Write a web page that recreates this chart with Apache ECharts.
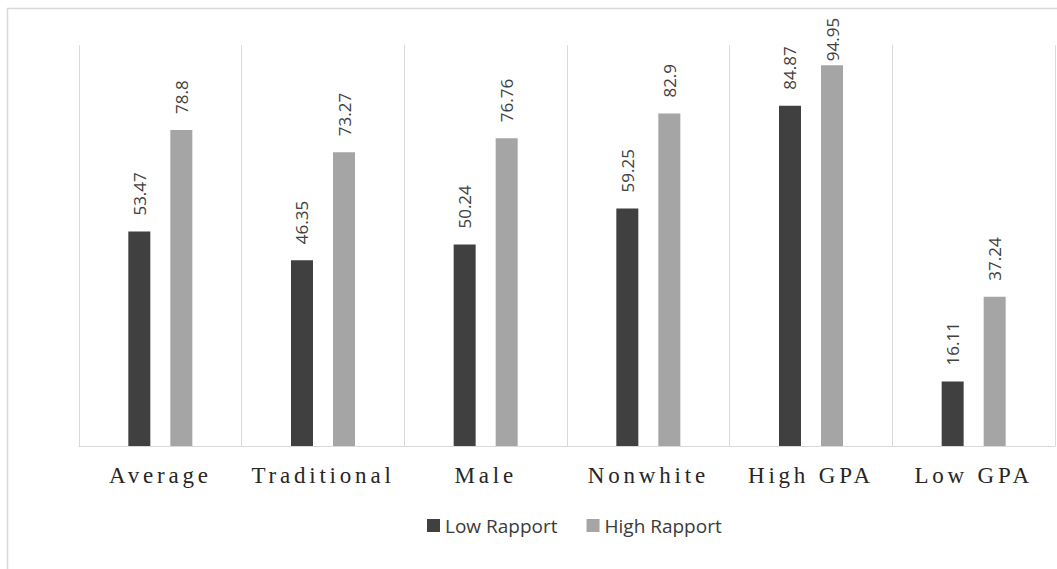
<!DOCTYPE html>
<html><head><meta charset="utf-8">
<script src="https://cdn.jsdelivr.net/npm/echarts@6/dist/echarts.min.js"></script>
<style>
html,body{margin:0;padding:0;background:#fff}
#chart{width:1057px;height:569px}
#chart text[style*="Liberation Serif"]{letter-spacing:3.8px}
</style>
</head><body><div id="chart"></div>
<script>
const categories = ['Average', 'Traditional', 'Male', 'Nonwhite', 'High GPA', 'Low GPA'];
const lowRapport = [53.47, 46.35, 50.24, 59.25, 84.87, 16.11];
const highRapport = [78.8, 73.27, 76.76, 82.9, 94.95, 37.24];
const seriesNames = ['Low Rapport', 'High Rapport'];
const seriesColors = ['#404040', '#a5a5a5'];

const chart = echarts.init(document.getElementById('chart'), null, {renderer: 'svg'});
const labelOpt = {
  show: true, position: 'top', distance: 16, rotate: 90,
  align: 'left', verticalAlign: 'middle',
  fontFamily: 'Open Sans', fontSize: 17, color: '#404040'
};
// the tallest label is pushed down to stay inside the frame, as in the source
const highData = highRapport.map(v => v > 90 ? {value: v, label: {distance: 4}} : v);
chart.setOption({
  animation: false,
  backgroundColor: '#fff',
  graphic: [{
    type: 'rect', silent: true, z: -10,
    shape: {x: 7.5, y: 8.5, width: 1200, height: 700},
    style: {fill: 'none', stroke: '#d9d9d9', lineWidth: 1.5}
  }],
  grid: {left: 79, right: 2, top: 45, bottom: 123},
  legend: {
    left: 427, top: 516, padding: 0,
    itemWidth: 13, itemHeight: 13, itemGap: 29, icon: 'rect',
    data: seriesNames,
    textStyle: {fontFamily: 'Open Sans', fontSize: 19, color: '#3a3a3a'}
  },
  xAxis: {
    type: 'category', data: categories,
    axisLine: {show: true, lineStyle: {color: '#d9d9d9', width: 1}},
    axisTick: {show: false},
    splitLine: {show: true, lineStyle: {color: '#d9d9d9', width: 1}},
    axisLabel: {interval: 0, margin: 18, fontFamily: 'Liberation Serif', fontSize: 23, color: '#262626'}
  },
  yAxis: {type: 'value', min: 0, max: 100, show: false},
  series: [
    {name: seriesNames[0], type: 'bar', data: lowRapport, barWidth: 22, barGap: '91%',
     itemStyle: {color: seriesColors[0]}, label: labelOpt},
    {name: seriesNames[1], type: 'bar', data: highData, barWidth: 22, barGap: '91%',
     itemStyle: {color: seriesColors[1]}, label: labelOpt}
  ]
});
function spaceLabels(){
  document.querySelectorAll('#chart text').forEach(t => {
    if (categories.indexOf(t.textContent) >= 0) t.setAttribute('letter-spacing', '3.8px');
  });
}
chart.on('finished', spaceLabels);
spaceLabels();
</script>
</body></html>
